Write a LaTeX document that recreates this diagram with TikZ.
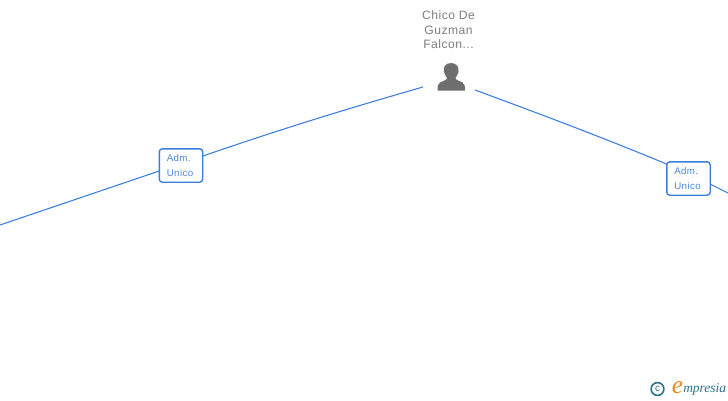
\documentclass[tikz,border=0pt]{standalone}
\usepackage{fontspec}
\setmainfont{Liberation Sans}
\newfontfamily\spacedfont[LetterSpace=4]{Liberation Sans}
\newfontfamily\logofont{Liberation Serif}
\definecolor{edgeblue}{HTML}{3B7DDD}
\definecolor{boxtext}{HTML}{4A87E0}
\definecolor{nametext}{HTML}{7F7F7F}
\definecolor{iconcol}{HTML}{6E6E6E}
\definecolor{logoteal}{HTML}{2F7189}
\definecolor{logoorange}{HTML}{F08A1D}
\tikzset{
  x=0.75pt,y=-0.75pt,
  edge/.style={draw=edgeblue,line width=0.8pt},
  rolebox/.style={draw=edgeblue,line width=1pt,rounded corners=2.2pt,fill=white,
    minimum width=32.5pt,minimum height=25pt,inner sep=0pt,inner xsep=5.6pt,align=left,
    text width=21.3pt,text=boxtext,font=\spacedfont\fontsize{7.3}{11}\selectfont},
  namelabel/.style={text=nametext,align=center,inner sep=0pt,font=\spacedfont\fontsize{9.1}{10.9}\selectfont}
}
\begin{document}
\begin{tikzpicture}
\useasboundingbox (0,0) rectangle (728,400);
\fill[white] (0,0) rectangle (728,400);
% connector ends
\coordinate (farleft) at (0,225);
\coordinate (farright) at (728,193);
\coordinate (personL) at (423,87);
\coordinate (personR) at (475,90);
\coordinate (roleLin) at (181,163.6);
\coordinate (roleRout) at (688.5,173.2);
% connectors
\draw[edge] (farleft) -- (roleLin);
\draw[edge] (roleLin) .. controls (280,129) and (350,108) .. (personL);
\draw[edge] (personR) .. controls (540,114) and (610,140) .. (roleRout);
\draw[edge] (roleRout) -- (farright);
% role boxes
\node[rolebox] (roleL) at (181,165.5) {Adm.\\Unico};
\node[rolebox] (roleR) at (688.5,178.5) {Adm.\\Unico};
% person
\node[namelabel] (name) at (448.5,30) {Chico De\\Guzman\\Falcon...};
\fill[iconcol] (451,63) .. controls (444.5,63) and (443,68) .. (444,72)
  .. controls (444.5,75) and (446.5,76.5) .. (447,78)
  .. controls (447,80) and (443,81) .. (440,82.5)
  .. controls (438,83.5) and (437.5,86) .. (437.5,90.5) -- (465,90.5)
  .. controls (465,86) and (464.5,83.5) .. (462.5,82.5)
  .. controls (459.5,81) and (455.5,80) .. (455.5,78)
  .. controls (456,76.5) and (458,75) .. (458.5,72)
  .. controls (459,68) and (457.5,63) .. (451,63) -- cycle;
% logo
\node[circle,draw=logoteal,line width=1.2pt,minimum size=9.6pt,inner sep=0pt,text=logoteal,font=\fontsize{7.5}{7.5}\selectfont] (copy) at (657.5,389) {c};
\node[text=logoorange,inner sep=0pt,font=\logofont\itshape\fontsize{19}{19}\selectfont] (elogo) at (677.5,387.5) {e};
\node[text=logoteal,inner sep=0pt,anchor=west,font=\logofont\itshape\fontsize{10.1}{10}\selectfont] (word) at (683,389.5) {mpresia};
\end{tikzpicture}
\end{document}
